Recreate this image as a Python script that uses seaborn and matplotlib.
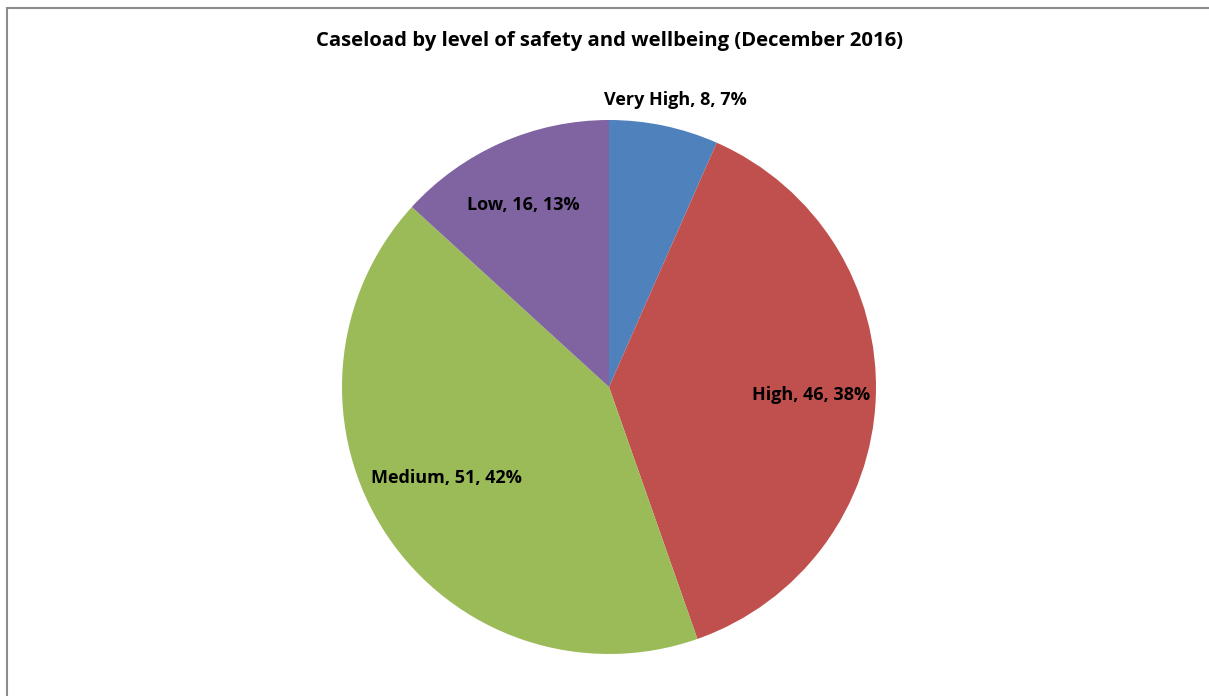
import numpy as np
import matplotlib
matplotlib.use("Agg")
import matplotlib.pyplot as plt
from matplotlib.patches import Rectangle
import seaborn as sns

# Caseload split by level of safety and wellbeing
categories = ["Very High", "High", "Medium", "Low"]
counts = [8, 46, 51, 16]
percent_labels = ["7%", "38%", "42%", "13%"]
title = "Caseload by level of safety and wellbeing (December 2016)"

sns.set_theme(style="white")
plt.rcParams["font.family"] = ["Open Sans", "DejaVu Sans"]

colors = ["#4F81BD", "#C0504D", "#9BBB59", "#8064A2"]

W, H = 1209, 696
fig = plt.figure(figsize=(W / 100, H / 100), dpi=100)
fig.patch.set_facecolor("white")

# chart-area frame (runs off the right and bottom edges)
fig.patches.append(Rectangle((7 / W, -0.1), 2.0, 1 - 8 / H + 0.1,
                             transform=fig.transFigure, fill=False,
                             edgecolor="#8c8c8c", linewidth=1.5))

cx, cy, r = 609, 387, 267
ax = fig.add_axes([(cx - r) / W, (H - cy - r) / H, 2 * r / W, 2 * r / H])
wedges, _ = ax.pie(counts, colors=colors, startangle=90, counterclock=False,
                   radius=1.0, wedgeprops=dict(linewidth=0))
ax.set_xlim(-1, 1)
ax.set_ylim(-1, 1)
ax.set_aspect("equal")
ax.axis("off")

# data label placement (radial distance, angle nudge) per slice
label_radius = [1.104, 0.757, 0.699, 0.754]
angle_nudge = [-1.2, 0.0, -4.3, 1.5]
for w, cat, n, pct, lr, dn in zip(wedges, categories, counts, percent_labels,
                                  label_radius, angle_nudge):
    mid = np.deg2rad((w.theta1 + w.theta2) / 2 + dn)
    ax.text(lr * np.cos(mid), lr * np.sin(mid), f"{cat}, {n}, {pct}",
            ha="center", va="center", fontsize=13, fontweight="bold",
            color="black", clip_on=False)

fig.text(609 / W, 1 - 41 / H, title, ha="center", va="center",
         fontsize=14.6, fontweight="bold", color="black")

fig.savefig("out.png", dpi=100, facecolor="white")
